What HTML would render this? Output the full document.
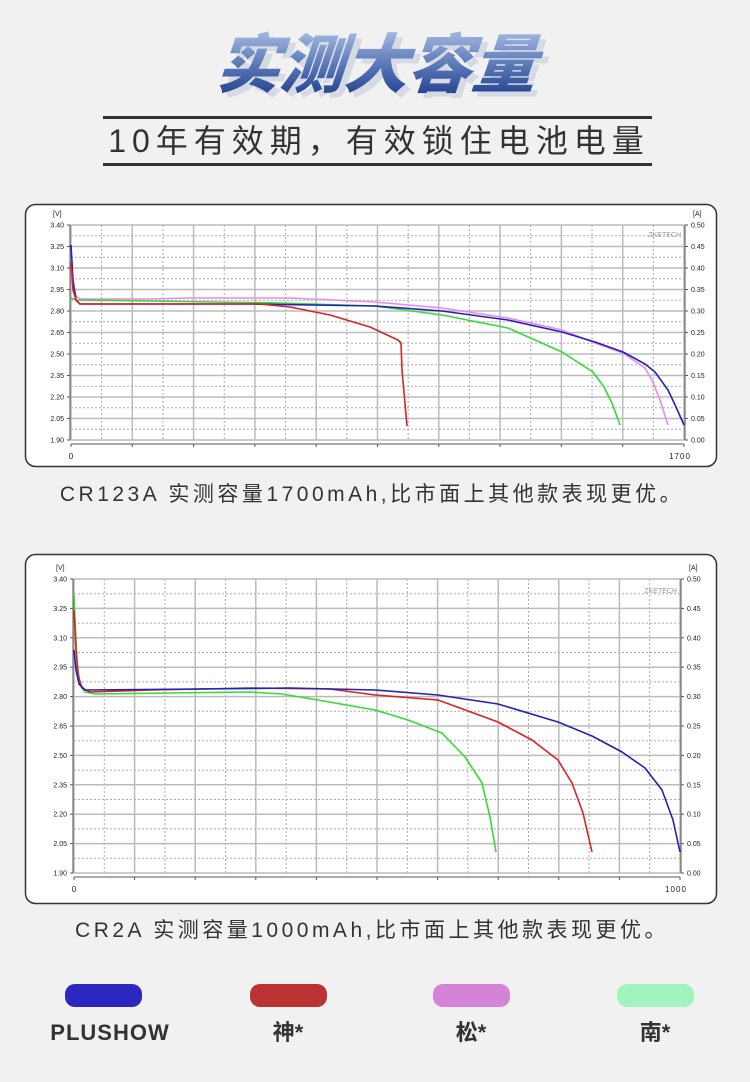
<!DOCTYPE html>
<html><head><meta charset="utf-8"><style>
html,body{margin:0;padding:0;background:#f1f1f1;}
svg{display:block;}
</style></head><body>
<svg id="s" xmlns="http://www.w3.org/2000/svg" width="750" height="1082" viewBox="0 0 750 1082">
<defs>
<linearGradient id="tg" x1="0" y1="0" x2="0" y2="1">
<stop offset="0" stop-color="#a8bde3"/><stop offset="0.5" stop-color="#5a78b8"/><stop offset="1" stop-color="#1a3888"/>
</linearGradient>
</defs>
<rect width="750" height="1082" fill="#f1f1f1"/>
<g font-family="'Liberation Sans','Noto Sans CJK SC',sans-serif" font-weight="900" font-style="italic" font-size="64" text-anchor="middle">
<text x="379" y="92" fill="#d6dbe3" transform="skewX(-5) translate(9,0)">实测大容量</text>
<text x="375" y="87" fill="url(#tg)" transform="skewX(-5) translate(7,0)">实测大容量</text>
</g>
<rect x="103" y="116" width="549" height="3" fill="#333"/>
<rect x="103" y="163" width="549" height="3" fill="#333"/>
<text x="379" y="152" font-family="'Liberation Sans','Noto Sans CJK SC',sans-serif" font-size="32" fill="#333" text-anchor="middle" letter-spacing="6">10年有效期，有效锁住电池电量</text>

<rect x="25.5" y="204.5" width="691" height="262" rx="10" fill="#fff" stroke="#333" stroke-width="1.5"/>
<rect x="25.5" y="554.5" width="691" height="349" rx="10" fill="#fff" stroke="#333" stroke-width="1.5"/>
<g id="c1"></g><g id="c2"></g>

<g font-family="'Liberation Sans','Noto Sans CJK SC',sans-serif" font-size="21" fill="#333" text-anchor="middle" letter-spacing="3.5">
<text x="372" y="501">CR123A 实测容量1700mAh,比市面上其他款表现更优。</text>
<text x="372" y="937">CR2A 实测容量1000mAh,比市面上其他款表现更优。</text>
</g>
<rect x="65" y="984" width="77" height="23" rx="10" fill="#2b27bf"/>
<rect x="250" y="984" width="77" height="23" rx="10" fill="#bb3232"/>
<rect x="433" y="984" width="77" height="23" rx="10" fill="#d583d6"/>
<rect x="617" y="984" width="77" height="23" rx="10" fill="#a2f3c0"/>
<g font-family="'Liberation Sans','Noto Sans CJK SC',sans-serif" font-size="22" font-weight="bold" fill="#333" text-anchor="middle">
<text x="110" y="1040" letter-spacing="1">PLUSHOW</text>
<text x="288" y="1040">神*</text>
<text x="471" y="1040">松*</text>
<text x="655" y="1040">南*</text>
</g>
</svg>
<script>
var NS="http://www.w3.org/2000/svg";
function el(p,t,a,txt){var e=document.createElementNS(NS,t);for(var k in a)e.setAttribute(k,a[k]);if(txt!=null)e.textContent=txt;p.appendChild(e);return e;}
function chart(g,L,R,T,B,xmax,series,zk){
  var W=R-L,H=B-T;
  for(var i=1;i<20;i++){var x=L+W*i/20;el(g,'line',{x1:x,x2:x,y1:T,y2:B,stroke:i%2?'#aaa':'#bbb','stroke-width':i%2?1:1.5,'stroke-dasharray':i%2?'2,2':'none'});}
  for(var j=1;j<20;j++){var y=T+H*j/20;el(g,'line',{x1:L,x2:R,y1:y,y2:y,stroke:j%2?'#aaa':'#bbb','stroke-width':j%2?1:1.5,'stroke-dasharray':j%2?'2,2':'none'});}
  el(g,'rect',{x:L,y:T,width:W,height:H,fill:'none',stroke:'#bbb','stroke-width':1.5});
  el(g,'line',{x1:L-1,x2:L-1,y1:T,y2:B,stroke:'#555'});
  el(g,'line',{x1:R+1,x2:R+1,y1:T,y2:B,stroke:'#555'});
  el(g,'line',{x1:L,x2:R,y1:B+4,y2:B+4,stroke:'#555'});
  var fs={'font-family':"'Liberation Sans',sans-serif",'font-size':7,fill:'#222'};
  for(var k=0;k<=10;k++){var y=T+H*k/10;
    var a=Object.assign({x:L-7,y:y+2.5,'text-anchor':'end'},fs);el(g,'text',a,(3.40-0.15*k).toFixed(2));
    el(g,'line',{x1:L-4,x2:L-1,y1:y,y2:y,stroke:'#555'});
    el(g,'line',{x1:R+1,x2:R+4,y1:y,y2:y,stroke:'#555'});
    var b=Object.assign({x:R+7,y:y+2.5},fs);el(g,'text',b,(0.5-0.05*k).toFixed(2));}
  for(var m=0;m<=10;m++){var x=L+W*m/10;el(g,'line',{x1:x,x2:x,y1:B+4,y2:B+7,stroke:'#555'});}
  el(g,'text',Object.assign({x:L-18,y:T-9},fs),'[V]');
  el(g,'text',Object.assign({x:R+9,y:T-9},fs),'[A]');
  el(g,'text',Object.assign({x:L,y:B+19,'text-anchor':'middle'},fs,{'font-size':8}),'0');
  el(g,'text',Object.assign({x:R-4,y:B+19,'text-anchor':'middle'},fs,{'font-size':8,'letter-spacing':1}),xmax);
  el(g,'text',Object.assign({x:R-3,y:zk,'text-anchor':'end'},fs,{fill:'#999'}),'ZKETECH');
  series.forEach(function(s){el(g,'polyline',{points:s[1],fill:'none',stroke:s[0],'stroke-width':1.6,'stroke-linejoin':'round'});});
}
chart(document.getElementById('c1'),71,684,225,440,'1700',[
 ['#e8e','71,250 73,285 76,296 80,299 150,299 190,298 290,298 375,302 442,308 508,318 562,330 595,343 623,353 645,368 652,380 660,400 668,425'],
 ['#3d3','71,298 76,300 150,301 280,303 375,306 442,315 508,328 562,352 593,372 604,387 612,403 620,425'],
 ['#22b','71,245 73,280 76,300 80,304 150,304 250,304 375,306 442,311 508,320 562,332 595,342 623,352 645,364 655,372 668,390 676,407 684,425'],
 ['#d22','71,262 73,290 76,300 80,304 150,304 260,304 290,307 330,315 370,327 398,340 401,343 402,370 407,426']
],237);
chart(document.getElementById('c2'),74,680,579,873,'1000',[
 ['#3d3','74,595 75,620 77,660 80,685 85,692 95,694 170,693 250,692 282,694 318,700 375,710 408,720 442,733 465,757 482,783 490,817 496,852'],
 ['#d22','74,610 76,650 78,675 82,688 90,692 150,690 250,688 330,689 375,695 438,700 498,722 532,740 558,760 572,783 583,813 592,852'],
 ['#22b','74,650 76,670 79,684 85,690 200,689 290,688 375,690 438,695 498,704 558,722 592,736 622,752 645,768 662,790 673,820 680,852']
],593);
</script>
</body></html>
